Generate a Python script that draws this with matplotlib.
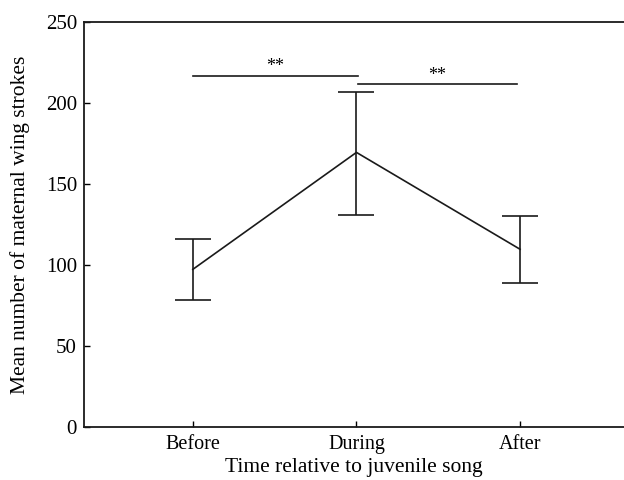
import matplotlib
matplotlib.use("Agg")
import matplotlib.pyplot as plt

categories = ["Before", "During", "After"]
means = [97.3, 169.5, 109.7]
upper = [115.9, 206.8, 130.4]
lower = [78.2, 130.9, 88.7]
sig_pairs = [(0, 1.01, 216.7), (1.01, 1.98, 211.7)]
sig_labels = ["**", "**"]
yticks = [0, 50, 100, 150, 200, 250]

plt.rcParams['font.family'] = ['Liberation Serif', 'DejaVu Serif']

fig = plt.figure(figsize=(6.24, 4.8), dpi=100)
ax = fig.add_axes([84/624, 1 - 427/480, 1 - 84/624, (427 - 22)/480])

x = list(range(len(categories)))
yerr = [[m - l for m, l in zip(means, lower)], [u - m for u, m in zip(upper, means)]]
ax.errorbar(x, means, yerr=yerr, color="#1a1a1a", lw=1.2, elinewidth=1.2,
            capsize=13.3, capthick=1.2)

for (x0, x1, yv), lab in zip(sig_pairs, sig_labels):
    ax.plot([x0, x1], [yv, yv], color="#1a1a1a", lw=1.2)
    ax.text((x0 + x1) / 2, yv + 0.3, lab, ha="center", va="bottom", fontsize=13)

ax.set_xlim(-0.665, 2.635)
ax.set_ylim(0, 250)
ax.set_xticks(x)
ax.set_xticklabels(categories)
ax.set_yticks(yticks)
ax.tick_params(direction="in", length=4.5, width=1.0, pad=5)
ax.tick_params(axis="y", labelsize=15)
ax.tick_params(axis="x", labelsize=14.5, pad=6)
ax.spines["right"].set_visible(False)
for s in ["left", "bottom", "top"]:
    ax.spines[s].set_linewidth(1.3)
    ax.spines[s].set_color("#1a1a1a")

ax.set_xlabel("Time relative to juvenile song", fontsize=15.5, labelpad=3)
ax.set_ylabel("Mean number of maternal wing strokes", fontsize=15.5)
ax.yaxis.set_label_coords((20 - 84) / 540, 0.5)
ax.yaxis.label.set_verticalalignment("center")

fig.savefig("out.png", dpi=100)
